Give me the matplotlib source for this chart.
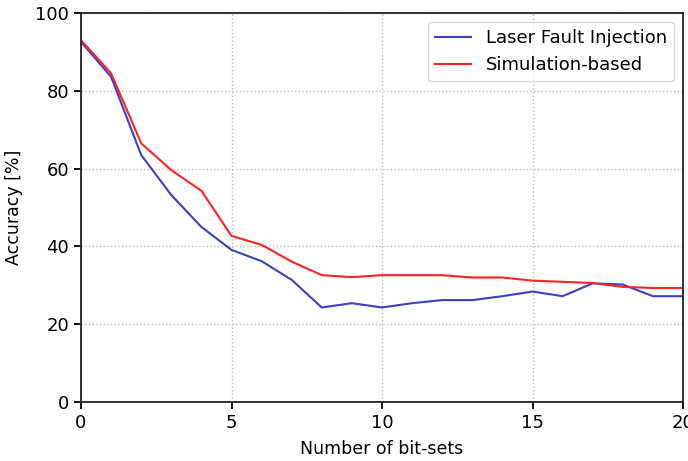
import matplotlib
matplotlib.use("Agg")
import matplotlib.pyplot as plt

bit_sets = list(range(21))
laser_fault = [92.6, 83.6, 63.5, 53.2, 45.0, 39.1, 36.2, 31.4, 24.3, 25.4, 24.3,
               25.4, 26.2, 26.2, 27.2, 28.4, 27.2, 30.5, 30.2, 27.2, 27.2]
simulation = [93.0, 84.5, 66.5, 59.6, 54.3, 42.7, 40.4, 36.1, 32.6, 32.1, 32.6,
              32.6, 32.6, 32.0, 32.0, 31.2, 30.9, 30.6, 29.6, 29.3, 29.3]

x_ticks = [0, 5, 10, 15, 20]
y_ticks = [0, 20, 40, 60, 80, 100]

plt.rcParams['font.family'] = ['DejaVu Sans']
fig = plt.figure(figsize=(6.88, 4.61), dpi=100)
ax = fig.add_axes([81 / 688, 59 / 461, 602 / 688, 389 / 461])

ax.plot(bit_sets, laser_fault, color='#3b3fc4', lw=1.5, label='Laser Fault Injection')
ax.plot(bit_sets, simulation, color='#ff2222', lw=1.5, label='Simulation-based')

ax.set_xlim(0, 20)
ax.set_ylim(0, 100)
ax.set_xticks(x_ticks)
ax.set_yticks(y_ticks)
ax.tick_params(labelsize=13, width=1.3, length=5)
for s in ax.spines.values():
    s.set_linewidth(1.3)
    s.set_color('#222222')
ax.grid(True, linestyle=':', color='#bbbbbb', lw=1.0)
ax.set_xlabel('Number of bit-sets', fontsize=12.5, labelpad=6)
ax.set_ylabel('Accuracy [%]', fontsize=12.5, labelpad=9)
ax.legend(loc='upper right', fontsize=13, handlelength=2.0,
          borderaxespad=0.5)

fig.savefig('out.png', dpi=100)
